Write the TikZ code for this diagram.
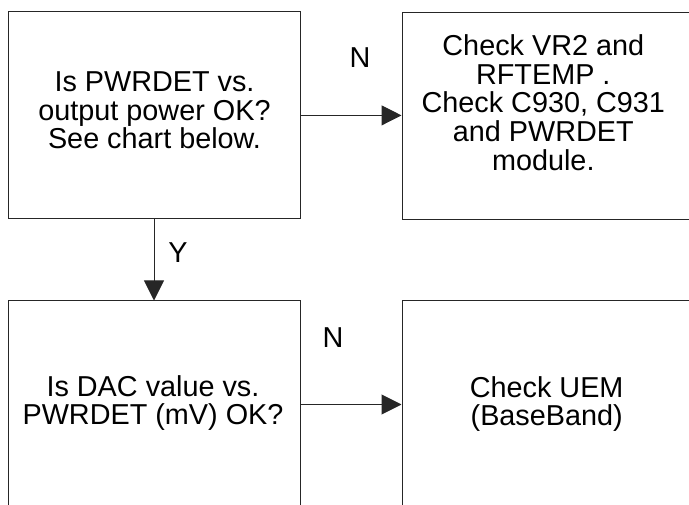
\documentclass[tikz,border=0pt]{standalone}
\usepackage{fontspec}
\setmainfont{Liberation Sans}
\usetikzlibrary{arrows.meta}
\begin{document}
\begin{tikzpicture}[x=1pt,y=-1pt,
  box/.style={draw=black!85, line width=1pt, rectangle, inner sep=0pt, minimum width=292pt, minimum height=207pt},
  txt/.style={align=center, inner sep=0pt, font={\fontsize{28.8}{28.7}\selectfont}},
  lbl/.style={inner sep=0pt, font={\fontsize{28.8}{28.7}\selectfont}},
  conn/.style={draw=black!85, line width=1pt, -{Triangle[length=20pt,width=20pt]}}
]
\useasboundingbox (0,0) rectangle (689,505);
\clip (0,0) rectangle (689,505);
\node[box] (b1) at (154.7,115.4) {};
\node[box] (b2) at (548,116.5) {};
\node[box] (b3) at (154.7,404.5) {};
\node[box] (b4) at (548,404.5) {};
\node[txt] (t1) at (154.5,110.5) {Is PWRDET vs.\\output power OK?\\See chart below.};
\node[txt] (t2) at (543.3,102.5) {Check VR2 and\\RFTEMP .\\Check C930, C931\\and PWRDET\\module.};
\node[txt] (t3) at (153,403) {Is DAC value vs.\\PWRDET (mV) OK?};
\node[txt] (t4) at (546.7,404) {Check UEM\\(BaseBand)};
\node[lbl] (n1) at (360,58) {N};
\node[lbl] (n2) at (333,338) {N};
\node[lbl] (y1) at (178,253) {Y};
\draw[conn] (b1.east) -- (b1.east -| b2.west);
\draw[conn] (b1.south -| 154,0) -- (b3.north -| 154,0);
\draw[conn] (b3.east) -- (b3.east -| b4.west);
\end{tikzpicture}
\end{document}
